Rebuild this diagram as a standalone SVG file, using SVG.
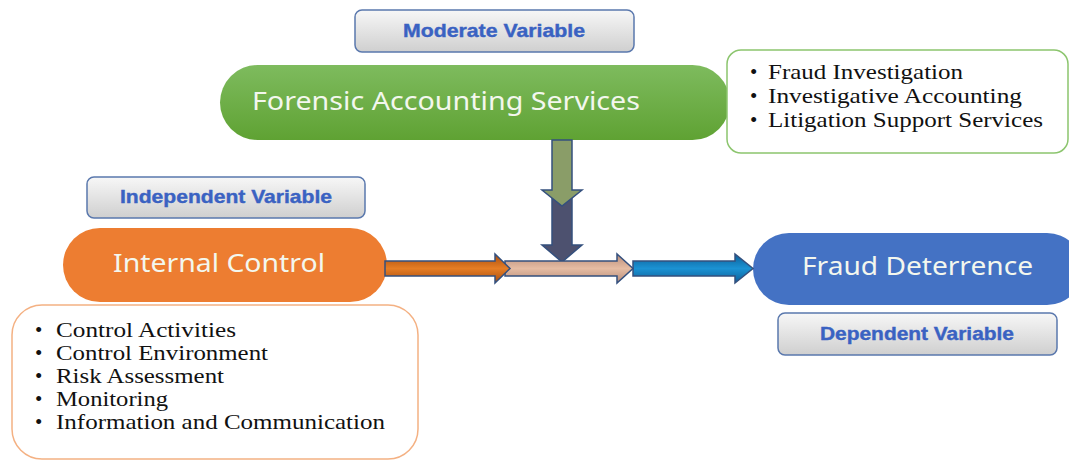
<svg xmlns="http://www.w3.org/2000/svg" width="1069" height="460" viewBox="0 0 1069 460">
<defs>
<linearGradient id="lbl" x1="0" y1="0" x2="0" y2="1"><stop offset="0" stop-color="#f7f7f7"/><stop offset="1" stop-color="#cfcfcf"/></linearGradient>
<linearGradient id="grn" x1="0" y1="0" x2="0" y2="1"><stop offset="0" stop-color="#7ebb5e"/><stop offset="1" stop-color="#5fa233"/></linearGradient>
<linearGradient id="org" x1="0" y1="0" x2="0" y2="1"><stop offset="0" stop-color="#a84d0e"/><stop offset="0.5" stop-color="#e57d25"/><stop offset="1" stop-color="#a84d0e"/></linearGradient>
<linearGradient id="tan" x1="0" y1="0" x2="0" y2="1"><stop offset="0" stop-color="#b88d7a"/><stop offset="0.5" stop-color="#e5bca3"/><stop offset="1" stop-color="#b88d7a"/></linearGradient>
<linearGradient id="blu" x1="0" y1="0" x2="0" y2="1"><stop offset="0" stop-color="#0c5f98"/><stop offset="0.5" stop-color="#1b92d3"/><stop offset="1" stop-color="#0c5f98"/></linearGradient>
</defs>
<style>
.lbl{fill:url(#lbl);stroke:#5a78ad;stroke-width:1.5}
.lt{font-family:"Liberation Sans",Arial,sans-serif;font-weight:bold;font-size:19px;fill:#3a62c2;stroke:#3a62c2;stroke-width:0.4;text-anchor:middle}
.pt{font-family:"Noto Sans","Open Sans",sans-serif;font-size:26px;fill:#f3f7ee}
.li{font-family:"Liberation Serif","Times New Roman",serif;font-size:21px;fill:#111}
.arr{stroke:#34507e;stroke-width:1.5;stroke-linejoin:miter}
</style>
<g id="moderate-label"><rect class="lbl" x="355" y="10" width="279" height="42" rx="7"/><text class="lt" x="494" y="37" textLength="182" lengthAdjust="spacingAndGlyphs">Moderate Variable</text></g>
<g id="forensic"><rect x="220" y="65" width="510" height="75" rx="37.5" fill="url(#grn)"/><text class="pt" x="252" y="110" textLength="388" lengthAdjust="spacingAndGlyphs">Forensic Accounting Services</text></g>
<g id="forensic-list"><rect x="727" y="50" width="341" height="103" rx="14" fill="#fff" stroke="#8cc56e" stroke-width="1.5"/>
<text class="li" x="750" y="79">•</text><text class="li" x="768" y="79" textLength="195" lengthAdjust="spacingAndGlyphs">Fraud Investigation</text>
<text class="li" x="750" y="103">•</text><text class="li" x="768" y="103" textLength="254" lengthAdjust="spacingAndGlyphs">Investigative Accounting</text>
<text class="li" x="750" y="127">•</text><text class="li" x="768" y="127" textLength="275" lengthAdjust="spacingAndGlyphs">Litigation Support Services</text></g>
<g id="independent-label"><rect class="lbl" x="87" y="177" width="278" height="41" rx="7"/><text class="lt" x="226" y="203" textLength="212" lengthAdjust="spacingAndGlyphs">Independent Variable</text></g>
<g id="internal-control"><rect x="63" y="228" width="324" height="74" rx="37" fill="#ed7d31"/><text class="pt" x="113" y="272" textLength="212" lengthAdjust="spacingAndGlyphs">Internal Control</text></g>
<g id="internal-list"><rect x="12" y="305" width="406" height="154" rx="30" fill="#fff" stroke="#f4b183" stroke-width="1.5"/>
<text class="li" x="35" y="337">•</text><text class="li" x="56" y="337" textLength="180" lengthAdjust="spacingAndGlyphs">Control Activities</text>
<text class="li" x="35" y="360">•</text><text class="li" x="56" y="360" textLength="212" lengthAdjust="spacingAndGlyphs">Control Environment</text>
<text class="li" x="35" y="383">•</text><text class="li" x="56" y="383" textLength="168" lengthAdjust="spacingAndGlyphs">Risk Assessment</text>
<text class="li" x="35" y="406">•</text><text class="li" x="56" y="406" textLength="112" lengthAdjust="spacingAndGlyphs">Monitoring</text>
<text class="li" x="35" y="429">•</text><text class="li" x="56" y="429" textLength="329" lengthAdjust="spacingAndGlyphs">Information and Communication</text></g>
<g id="fraud-deterrence"><rect x="753" y="233" width="330" height="72" rx="36" fill="#4472c4"/><text class="pt" x="802" y="275" textLength="231" lengthAdjust="spacingAndGlyphs">Fraud Deterrence</text></g>
<g id="dependent-label"><rect class="lbl" x="778" y="313" width="279" height="42" rx="7"/><text class="lt" x="917" y="340" textLength="194" lengthAdjust="spacingAndGlyphs">Dependent Variable</text></g>
<g id="connectors">
<path class="arr" d="M552,192 H572 V245 H582 L562,262 L542,245 H552 Z" fill="#4d516f"/>
<path class="arr" d="M552,140 H572 V190 H582 L562,206 L542,190 H552 Z" fill="#8a9d68"/>
<path class="arr" d="M633,261 H735 V254 L753,268.5 L735,283 V276 H633 Z" fill="url(#blu)"/>
<path class="arr" d="M505,261 H617 V254 L633,268.5 L617,283 V276 H505 Z" fill="url(#tan)" stroke="#8ba0c0"/>
<path class="arr" d="M385,261 H495 V254 L510,268.5 L495,283 V276 H385 Z" fill="url(#org)"/>
</g>
</svg>
